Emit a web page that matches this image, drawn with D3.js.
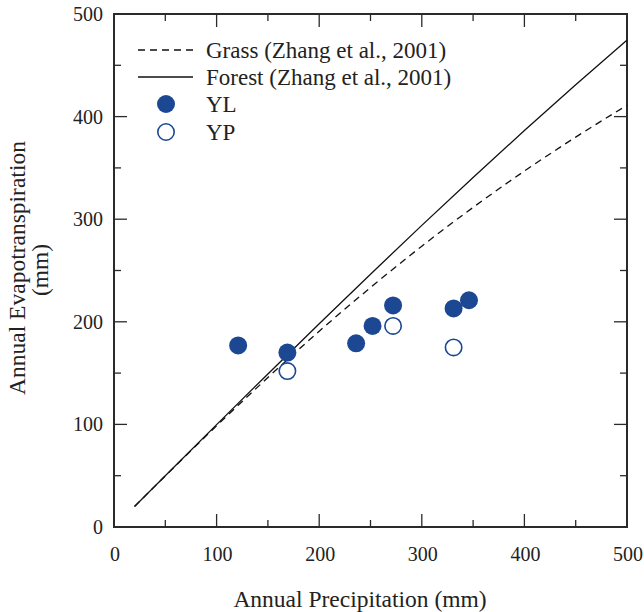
<!DOCTYPE html>
<html><head><meta charset="utf-8">
<script src="https://cdn.jsdelivr.net/npm/d3@7"></script>
<style>body{margin:0;background:#fff}svg{display:block}text{font-family:"Liberation Serif","DejaVu Serif",serif;fill:#222}</style>
</head><body><svg id="c" width="644" height="612"></svg>
<script>
// Observed points
const ylP = [121, 169, 236, 252, 272, 331, 346];
const ylET = [177, 170, 179, 196, 216, 213, 221];
const ypP = [169, 272, 331];
const ypET = [152, 196, 175];
// Model curves
const curveP = [20, 50, 100, 150, 200, 250, 300, 350, 400, 450, 500];
const forestET = [20, 50, 99.8, 149.2, 198.1, 246.4, 294.0, 340.7, 386.4, 431.1, 474.6];
const grassET = [20, 49.8, 98.6, 145.7, 190.8, 233.4, 273.7, 311.5, 346.9, 380.0, 411.0];
const xTicks = [0, 100, 200, 300, 400, 500];
const yTicks = [0, 100, 200, 300, 400, 500];
const legendLabels = ["Grass (Zhang et al., 2001)", "Forest (Zhang et al., 2001)", "YL", "YP"];

const blue = "#1b4793";
const svg = d3.select("#c");
const L = 114, R = 627, T = 14, B = 527;
const x = d3.scaleLinear().domain([0, 500]).range([L, R]);
const y = d3.scaleLinear().domain([0, 500]).range([B, T]);

const ax = "#2a2a2a";
// ticks on all 4 sides, inward
const minor = d3.range(0, 501, 50);
function tickLen(v){ return v % 100 === 0 ? 13 : 7; }
const tg = svg.append("g").attr("stroke", ax).attr("stroke-width", 1.3);
minor.forEach(v => {
  tg.append("line").attr("x1", x(v)).attr("x2", x(v)).attr("y1", B).attr("y2", B - tickLen(v));
  tg.append("line").attr("x1", x(v)).attr("x2", x(v)).attr("y1", T).attr("y2", T + tickLen(v));
  tg.append("line").attr("y1", y(v)).attr("y2", y(v)).attr("x1", L).attr("x2", L + tickLen(v));
  tg.append("line").attr("y1", y(v)).attr("y2", y(v)).attr("x1", R).attr("x2", R - tickLen(v));
});
svg.append("rect").attr("x", L).attr("y", T).attr("width", R - L).attr("height", B - T)
  .attr("fill", "none").attr("stroke", ax).attr("stroke-width", 2);

// tick labels
svg.append("g").selectAll("text").data(xTicks).join("text")
  .attr("x", d => x(d) + 1).attr("y", 561).attr("text-anchor", "middle")
  .attr("font-size", 20).text(d => d);
svg.append("g").selectAll("text").data(yTicks).join("text")
  .attr("x", 103).attr("y", d => y(d) + 7).attr("text-anchor", "end")
  .attr("font-size", 20).text(d => d);

// titles
svg.append("text").attr("x", 360).attr("y", 607).attr("text-anchor", "middle")
  .attr("font-size", 23.5).text("Annual Precipitation (mm)");
svg.append("text").attr("transform", "translate(25,268) rotate(-90)").attr("text-anchor", "middle")
  .attr("font-size", 23.5).text("Annual Evapotranspiration");
svg.append("text").attr("transform", "translate(48,270) rotate(-90)").attr("text-anchor", "middle")
  .attr("font-size", 23.5).text("(mm)");

// curves
const line = d3.line().x(d => x(d[0])).y(d => y(d[1])).curve(d3.curveMonotoneX);
svg.append("path").datum(curveP.map((p, i) => [p, grassET[i]])).attr("d", line)
  .attr("fill", "none").attr("stroke", "#111").attr("stroke-width", 1.3).attr("stroke-dasharray", "7,5");
svg.append("path").datum(curveP.map((p, i) => [p, forestET[i]])).attr("d", line)
  .attr("fill", "none").attr("stroke", "#111").attr("stroke-width", 1.3);

// points
svg.append("g").selectAll("circle").data(ylP.map((p, i) => [p, ylET[i]])).join("circle")
  .attr("cx", d => x(d[0])).attr("cy", d => y(d[1])).attr("r", 9).attr("fill", blue);
svg.append("g").selectAll("circle").data(ypP.map((p, i) => [p, ypET[i]])).join("circle")
  .attr("cx", d => x(d[0])).attr("cy", d => y(d[1])).attr("r", 8.2)
  .attr("fill", "#fff").attr("stroke", blue).attr("stroke-width", 1.6);

// legend
const lg = svg.append("g");
const ly = [50, 77, 104, 132];
lg.append("line").attr("x1", 138).attr("x2", 193).attr("y1", ly[0]).attr("y2", ly[0])
  .attr("stroke", "#111").attr("stroke-width", 1.3).attr("stroke-dasharray", "7,5");
lg.append("line").attr("x1", 138).attr("x2", 193).attr("y1", ly[1]).attr("y2", ly[1])
  .attr("stroke", "#111").attr("stroke-width", 1.3);
lg.append("circle").attr("cx", 166).attr("cy", ly[2]).attr("r", 9).attr("fill", blue);
lg.append("circle").attr("cx", 166).attr("cy", ly[3]).attr("r", 8.2).attr("fill", "#fff")
  .attr("stroke", blue).attr("stroke-width", 1.6);
lg.selectAll("text").data(legendLabels).join("text")
  .attr("x", 206).attr("y", (d, i) => ly[i] + 8).attr("font-size", 23).text(d => d);
</script></body></html>
